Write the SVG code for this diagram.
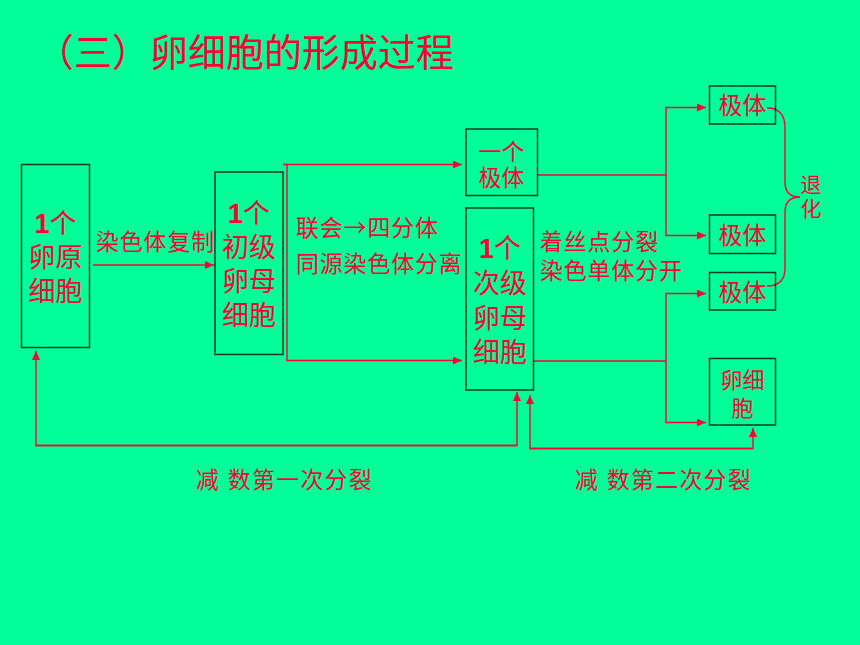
<svg xmlns="http://www.w3.org/2000/svg" width="860" height="645" viewBox="0 0 860 645">
<style>
.t{font-family:"Liberation Sans","Noto Sans CJK SC",sans-serif;fill:#ff0033}
.cjk{font-family:"Noto Sans CJK SC",sans-serif}
.n{font-weight:bold}
.lb{font-size:23px;letter-spacing:0.8px}
.box{fill:none;stroke:#0b3a26;stroke-width:1.5}
.c{fill:none;stroke:#ff0033;stroke-width:1.4}
</style>
<defs>
<marker id="ah" markerUnits="userSpaceOnUse" markerWidth="10" markerHeight="8" refX="9" refY="4" orient="auto">
<path d="M0,0 L9,4 L0,8 z" fill="#ff0033"/>
</marker>
</defs>
<rect x="0" y="0" width="860" height="645" fill="#00ff99"/>
<text class="t" x="36" y="66" font-size="38">（三）卵细胞的形成过程</text>

<g id="connectors">
<path class="c" d="M93,265 H214" marker-end="url(#ah)"/>
<path class="c" d="M283,164.5 H287 V360.5 H462" marker-end="url(#ah)"/>
<path class="c" d="M287,164.5 H462" marker-end="url(#ah)"/>
<path class="c" d="M537,175 H666 V107.5 H706" marker-end="url(#ah)"/>
<path class="c" d="M666,175 V235.5 H706" marker-end="url(#ah)"/>
<path class="c" d="M533,361 H666 V293.5 H706" marker-end="url(#ah)"/>
<path class="c" d="M666,361 V422.5 H706" marker-end="url(#ah)"/>
<path class="c" d="M517,445.5 H36 V351" marker-end="url(#ah)"/>
<path class="c" d="M36,445.5 H517 V392" marker-end="url(#ah)"/>
<path class="c" d="M753,448.5 H530 V395" marker-end="url(#ah)"/>
<path class="c" d="M530,448.5 H753 V428" marker-end="url(#ah)"/>
<path class="c" d="M767,108 C779,108 785,114 785,128 V182 C785,192 790,197 800,197"/>
<path class="c" d="M767,286 C779,286 785,280 785,268 V212 C785,202 790,197 800,197"/>
</g>

<g id="label-copy"><text class="t lb" x="96" y="250">染色体复制</text></g>
<g id="label-synapsis">
<text class="t lb" x="296"><tspan x="296" y="236">联会<tspan class="cjk">→</tspan>四分体</tspan><tspan x="296" y="272">同源染色体分离</tspan></text>
</g>
<g id="label-split">
<text class="t lb" x="540"><tspan x="540" y="250">着丝点分裂</tspan><tspan x="540" y="279">染色单体分开</tspan></text>
</g>
<g id="label-degen">
<text class="t" font-size="21" text-anchor="middle"><tspan x="811" y="192">退</tspan><tspan x="811" y="216">化</tspan></text>
</g>
<g id="label-m1"><text class="t" x="196" y="488" font-size="23" letter-spacing="1.2" xml:space="preserve">减 数第一次分裂</text></g>
<g id="label-m2"><text class="t" x="575" y="488" font-size="23" letter-spacing="1.2" xml:space="preserve">减 数第二次分裂</text></g>

<g id="node-oogonium">
<rect class="box" x="21.5" y="164.5" width="68" height="183"/>
<text class="t" font-size="27" text-anchor="middle"><tspan x="55.5" y="233"><tspan class="n">1</tspan>个</tspan><tspan x="55.5" y="267">卵原</tspan><tspan x="55.5" y="301">细胞</tspan></text>
</g>
<g id="node-primary">
<rect class="box" x="215" y="172" width="68" height="182.5"/>
<text class="t" font-size="27" text-anchor="middle"><tspan x="249" y="223"><tspan class="n">1</tspan>个</tspan><tspan x="249" y="257">初级</tspan><tspan x="249" y="291">卵母</tspan><tspan x="249" y="325">细胞</tspan></text>
</g>
<g id="node-polar1">
<rect class="box" x="466" y="129" width="71.5" height="66.5"/>
<text class="t" font-size="23" text-anchor="middle"><tspan x="501.5" y="160">一个</tspan><tspan x="501.5" y="186">极体</tspan></text>
</g>
<g id="node-secondary">
<rect class="box" x="466" y="208" width="67.5" height="182"/>
<text class="t" font-size="27" text-anchor="middle"><tspan x="500" y="258"><tspan class="n">1</tspan>个</tspan><tspan x="500" y="293">次级</tspan><tspan x="500" y="328">卵母</tspan><tspan x="500" y="362">细胞</tspan></text>
</g>
<g id="node-polar-a">
<rect class="box" x="709.5" y="86" width="66" height="38"/>
<text class="t" x="742.5" y="114" font-size="24" text-anchor="middle">极体</text>
</g>
<g id="node-polar-b">
<rect class="box" x="709.5" y="215" width="66" height="38.5"/>
<text class="t" x="742.5" y="244" font-size="24" text-anchor="middle">极体</text>
</g>
<g id="node-polar-c">
<rect class="box" x="709.5" y="272.5" width="66" height="37.5"/>
<text class="t" x="742.5" y="301" font-size="24" text-anchor="middle">极体</text>
</g>
<g id="node-ovum">
<rect class="box" x="709.5" y="358.5" width="66" height="66.5"/>
<text class="t" font-size="22" text-anchor="middle"><tspan x="742.5" y="388">卵细</tspan><tspan x="742.5" y="416">胞</tspan></text>
</g>
</svg>
